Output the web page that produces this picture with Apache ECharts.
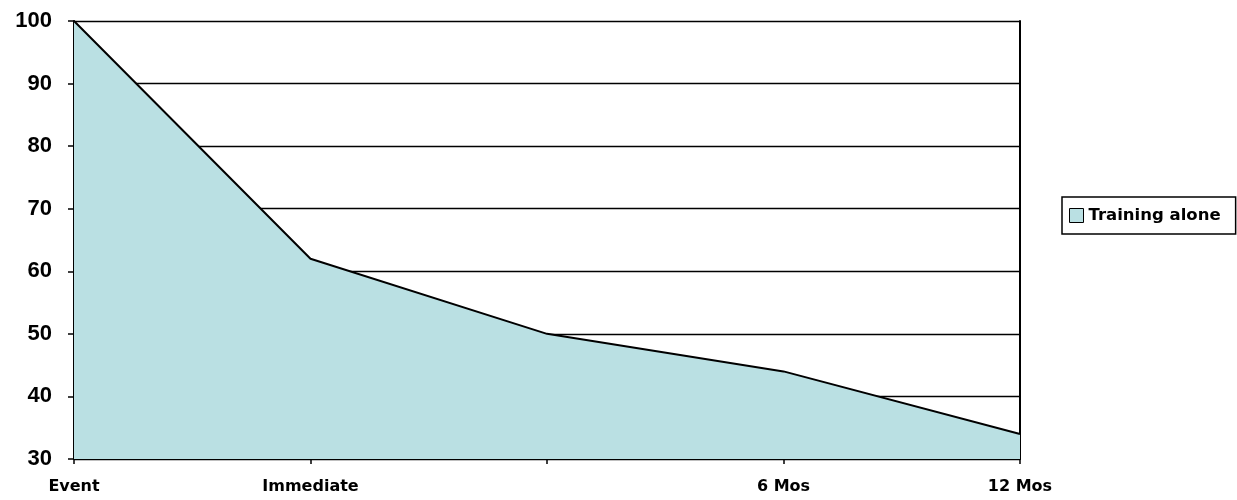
<!DOCTYPE html>
<html><head><meta charset="utf-8">
<script src="https://cdn.jsdelivr.net/npm/echarts@6/dist/echarts.min.js"></script>
<style>html,body{margin:0;padding:0;background:#fff}#c{width:1237px;height:500px}</style>
</head><body><div id="c"></div>
<script>
const categories = ['Event', 'Immediate', '', '6 Mos', '12 Mos'];
const trainingAlone = [100, 62, 50, 44, 34];
const yTicks = { min: 30, max: 100, interval: 10 };
const seriesName = 'Training alone';

const chart = echarts.init(document.getElementById('c'));
chart.setOption({
  animation: false,
  grid: { left: 74, right: 217, top: 21, bottom: 41, containLabel: false },
  legend: {
    left: 1062, top: 197,
    data: [{ name: seriesName, icon: 'rect', itemStyle: { borderColor: '#000', borderWidth: 1 } }],
    itemWidth: 14, itemHeight: 14, itemGap: 4,
    borderColor: '#000', borderWidth: 1.5, padding: [10, 15, 10, 7],
    textStyle: { fontFamily: 'DejaVu Sans', fontWeight: 'bold', fontSize: 16.5, color: '#000' }
  },
  xAxis: {
    type: 'category', data: categories, boundaryGap: false,
    axisLine: { lineStyle: { color: '#000', width: 2 } },
    axisTick: { show: true, length: 5, lineStyle: { color: '#000', width: 1.5 }, alignWithLabel: true, interval: 0 },
    axisLabel: { interval: 0, margin: 20, fontFamily: 'DejaVu Sans', fontWeight: 'bold', fontSize: 16, color: '#000' },
    splitLine: { show: false }
  },
  yAxis: [{
    type: 'value', min: yTicks.min, max: yTicks.max, interval: yTicks.interval,
    axisLine: { show: true, lineStyle: { color: '#000', width: 2 } },
    axisTick: { show: true, length: 6, lineStyle: { color: '#000', width: 1.5 } },
    axisLabel: { margin: 22, fontFamily: 'Liberation Sans, Arial', fontWeight: 'bold', fontSize: 22, color: '#000' },
    splitLine: { show: true, lineStyle: { color: '#000', width: 1.3 } }
  }, {
    type: 'value', position: 'right', min: yTicks.min, max: yTicks.max, interval: yTicks.interval,
    axisLine: { show: true, lineStyle: { color: '#000', width: 2 } },
    axisTick: { show: false }, axisLabel: { show: false }, splitLine: { show: false }
  }],
  series: [{
    name: seriesName, type: 'line', data: trainingAlone, yAxisIndex: 0,
    symbol: 'none', smooth: false,
    itemStyle: { color: '#BAE0E3', borderColor: '#000' },
    lineStyle: { color: '#000', width: 2 },
    areaStyle: { color: '#BAE0E3', opacity: 1, origin: 'start' }
  }]
});
</script></body></html>
